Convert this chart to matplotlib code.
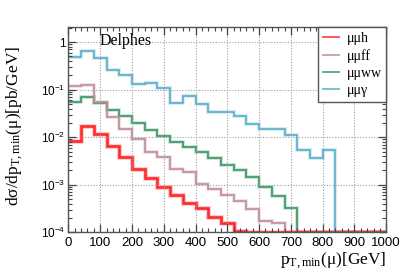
import numpy as np
import matplotlib
matplotlib.use("Agg")
import matplotlib.pyplot as plt
import matplotlib.patheffects as pe
from matplotlib.ticker import MultipleLocator, LogLocator, FuncFormatter

plt.rcParams['mathtext.fontset'] = 'custom'
plt.rcParams['mathtext.rm'] = 'Liberation Serif'
plt.rcParams['mathtext.it'] = 'Liberation Serif:italic'
plt.rcParams['mathtext.sf'] = 'Liberation Sans'

# bins of 40 GeV from 0 to 1000
edges = np.arange(0, 1001, 40)
labels = ["\u03bc\u03bch", "\u03bc\u03bcff", "\u03bc\u03bcww", "\u03bc\u03bc\u03b3"]
mumuh = [0.0085, 0.0176, 0.0117, 0.0067, 0.0038, 0.0022, 0.00138, 0.00092, 0.0006,
         0.00042, 0.00032, 0.000206, 0.000155, 0.000108] + [0] * 11
mumuff = [0.117, 0.123, 0.054, 0.026, 0.0147, 0.0091, 0.005, 0.0038, 0.0022, 0.0019,
          0.00102, 0.00083, 0.0006, 0.00046, 0.00031, 0.000175, 0.000156] + [0] * 8
mumuww = [0.055, 0.070, 0.053, 0.037, 0.0277, 0.020, 0.0142, 0.0107, 0.0081, 0.0063,
          0.0048, 0.0036, 0.0026, 0.002, 0.00147, 0.00089, 0.00058, 0.00032] + [0] * 7
mumugamma = [0.48, 0.66, 0.46, 0.265, 0.20, 0.129, 0.137, 0.108, 0.0536, 0.072, 0.049,
             0.034, 0.034, 0.0275, 0.0186, 0.0146, 0.0146, 0.0111, 0.0055, 0.0036,
             0.0055] + [0] * 4

ymin, ymax = 1e-4, 2.07
colors = ["#ff2a2a", "#c08c9a", "#3a9660", "#58aecb"]
widths = [1.9, 1.2, 1.2, 1.2]
series = [mumuh, mumuff, mumuww, mumugamma]

fig = plt.figure(figsize=(4.07, 2.76), dpi=100)
ax = fig.add_axes([0.168, 0.158, 0.781, 0.744])

handles = []
# draw the last series first so red ends up on top
for vals, col, lw, lab in reversed(list(zip(series, colors, widths, labels))):
    v = np.clip(np.array(vals, dtype=float), ymin, None)
    h = ax.stairs(v, edges, baseline=None, color=col, linewidth=lw, label=lab,
                  path_effects=[pe.Stroke(linewidth=lw + 1.6, foreground=col, alpha=0.25),
                                pe.Normal()])
    handles.append(h)

ax.set_yscale('log')
ax.set_xlim(0, 1000)
ax.set_ylim(ymin, ymax)

ax.xaxis.set_major_locator(MultipleLocator(100))
ax.xaxis.set_minor_locator(MultipleLocator(20))
ax.yaxis.set_major_locator(LogLocator(base=10, numticks=10))
ax.yaxis.set_minor_locator(LogLocator(base=10, subs=np.arange(2, 10), numticks=20))


def yfmt(v, pos):
    e = int(round(np.log10(v)))
    if e == 0:
        return "1"
    return r"$\mathsf{10^{%d}}$" % e


ax.yaxis.set_major_formatter(FuncFormatter(yfmt))
ax.tick_params(which='both', direction='in', top=True, right=True, colors='#444444',
               labelcolor='black')
ax.tick_params(axis='x', labelsize=9.5, pad=3)
ax.tick_params(axis='y', labelsize=8.5, pad=2)
ax.tick_params(which='major', length=5.5, width=0.9)
ax.tick_params(which='minor', length=3, width=0.8)
for lab in ax.get_xticklabels() + ax.get_yticklabels():
    lab.set_family('Liberation Sans')

ax.grid(True, which='major', linestyle=(0, (1, 1.5)), color='#a0a0a0', linewidth=0.8)
for s in ax.spines.values():
    s.set_color('#555555')
    s.set_linewidth(1.0)

ax.text(0.097, 0.93, "Delphes", transform=ax.transAxes, family='Liberation Serif',
        fontsize=11.5, va='center', ha='left')

ax.set_xlabel(r"$\mathrm{p_{T,min}(\mu)[GeV]}$", fontsize=12.5, loc='right', labelpad=1)
ax.set_ylabel(r"$\mathrm{d\sigma/dp_{T,min}(\mu)[pb/GeV]}$", fontsize=12.5)
ax.yaxis.set_label_coords(-0.135, 0.52)

leg = ax.legend(handles=handles[::-1], loc='upper right', bbox_to_anchor=(1.0, 1.0),
                borderaxespad=0, fancybox=False, edgecolor='#555555', framealpha=1,
                prop={'family': 'Liberation Serif', 'size': 10}, handlelength=1.2,
                handletextpad=0.5, labelspacing=0.3, borderpad=0.35)
leg.get_frame().set_linewidth(1.0)
for line in leg.get_lines():
    line.set_linewidth(1.3)
    line.set_alpha(0.85)
    line.set_path_effects([])

fig.savefig("out.png", dpi=100)
